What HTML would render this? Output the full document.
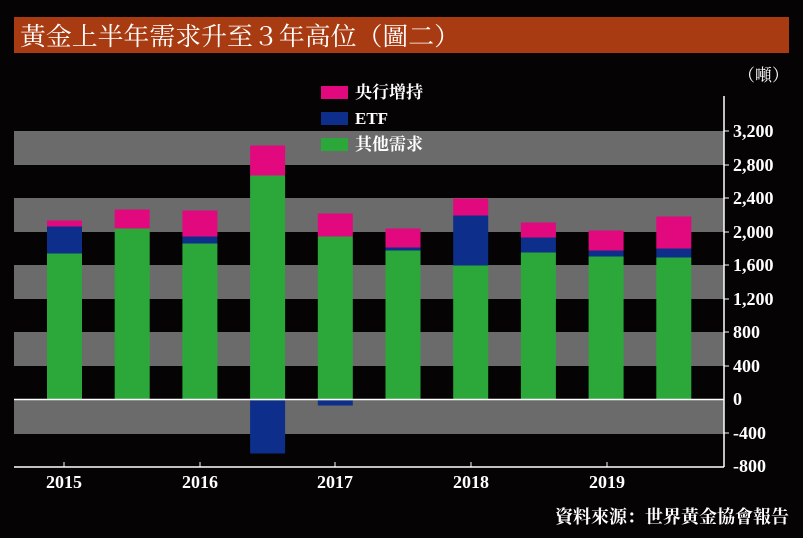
<!DOCTYPE html>
<html><head><meta charset="utf-8"><style>
body{margin:0;background:#050303;width:803px;height:533px;overflow:hidden}
svg text{font-family:"Liberation Serif","Noto Serif CJK SC",serif;fill:#fff}
</style></head><body>
<svg width="803" height="533" xmlns="http://www.w3.org/2000/svg">
<rect x="0" y="0" width="803" height="533" fill="#050303"/>
<rect x="14" y="17" width="775" height="36" fill="#a93b12"/>
<text x="20" y="45" font-size="25" textLength="440" lengthAdjust="spacingAndGlyphs">黃金上半年需求升至３年高位（圖二）</text>
<g fill="#6b6b6b">
<rect x="14" y="131" width="710" height="34"/>
<rect x="14" y="198" width="710" height="34"/>
<rect x="14" y="265" width="710" height="34"/>
<rect x="14" y="332" width="710" height="34"/>
<rect x="14" y="399" width="710" height="35"/>
</g>
<g fill="#2ca83a">
<rect x="47" y="253.5" width="35" height="146"/>
<rect x="114.7" y="228.5" width="35" height="171"/>
<rect x="182.4" y="243.5" width="35" height="156"/>
<rect x="250.1" y="175.5" width="35" height="224"/>
<rect x="317.8" y="236.5" width="35" height="163"/>
<rect x="385.5" y="250.5" width="35" height="149"/>
<rect x="453.2" y="265.5" width="35" height="134"/>
<rect x="520.9" y="252.5" width="35" height="147"/>
<rect x="588.6" y="256.5" width="35" height="143"/>
<rect x="656.3" y="257.5" width="35" height="142"/>
</g>
<g fill="#0d2e8a">
<rect x="47" y="226.5" width="35" height="27"/>
<rect x="182.4" y="236.5" width="35" height="7"/>
<rect x="250.1" y="400.5" width="35" height="53"/>
<rect x="317.8" y="400.5" width="35" height="5"/>
<rect x="385.5" y="247.5" width="35" height="3"/>
<rect x="453.2" y="215.5" width="35" height="50"/>
<rect x="520.9" y="237.5" width="35" height="15"/>
<rect x="588.6" y="250.5" width="35" height="6"/>
<rect x="656.3" y="248.5" width="35" height="9"/>
</g>
<g fill="#e2097f">
<rect x="47" y="220.5" width="35" height="6"/>
<rect x="114.7" y="209.5" width="35" height="19"/>
<rect x="182.4" y="210.5" width="35" height="26"/>
<rect x="250.1" y="145.5" width="35" height="30"/>
<rect x="317.8" y="213.5" width="35" height="23"/>
<rect x="385.5" y="228.5" width="35" height="19"/>
<rect x="453.2" y="198.5" width="35" height="17"/>
<rect x="520.9" y="222.5" width="35" height="15"/>
<rect x="588.6" y="230.5" width="35" height="20"/>
<rect x="656.3" y="216.5" width="35" height="32"/>
</g>
<line x1="14" y1="399.5" x2="724" y2="399.5" stroke="#fff" stroke-width="1.5"/>
<line x1="14" y1="467" x2="724" y2="467" stroke="#fff" stroke-width="1.5"/>
<line x1="724" y1="96" x2="724" y2="467" stroke="#fff" stroke-width="1.5"/>
<g stroke="#fff" stroke-width="1">
<line x1="64" y1="462" x2="64" y2="467"/><line x1="200" y1="462" x2="200" y2="467"/><line x1="335" y1="462" x2="335" y2="467"/><line x1="471" y1="462" x2="471" y2="467"/><line x1="607" y1="462" x2="607" y2="467"/>
</g>
<g font-size="18" font-weight="bold" text-anchor="middle">
<text x="64" y="488">2015</text><text x="200" y="488">2016</text><text x="335" y="488">2017</text><text x="471" y="488">2018</text><text x="607" y="488">2019</text>
</g>
<g font-size="18" font-weight="bold">
<text x="733" y="137">3,200</text><text x="733" y="171">2,800</text><text x="733" y="204">2,400</text><text x="733" y="238">2,000</text><text x="733" y="271">1,600</text><text x="733" y="305">1,200</text><text x="733" y="338">800</text><text x="733" y="372">400</text><text x="733" y="405">0</text><text x="733" y="439">-400</text><text x="733" y="472">-800</text>
</g>
<g stroke="#fff"><line x1="724" y1="131" x2="729" y2="131"/><line x1="724" y1="165" x2="729" y2="165"/><line x1="724" y1="198" x2="729" y2="198"/><line x1="724" y1="232" x2="729" y2="232"/><line x1="724" y1="265" x2="729" y2="265"/><line x1="724" y1="299" x2="729" y2="299"/><line x1="724" y1="332" x2="729" y2="332"/><line x1="724" y1="366" x2="729" y2="366"/><line x1="724" y1="433" x2="729" y2="433"/></g>
<text x="738" y="81" font-size="17">（噸）</text>
<rect x="321" y="86" width="27" height="13" fill="#e2097f"/>
<rect x="321" y="112" width="27" height="13" fill="#0d2e8a"/>
<rect x="321" y="138" width="27" height="13" fill="#2ca83a"/>
<g font-size="17" font-weight="bold"><text x="355" y="98">央行增持</text><text x="355" y="124">ETF</text><text x="355" y="150">其他需求</text></g>
<text x="789" y="523" font-size="18" font-weight="bold" text-anchor="end">資料來源：世界黃金協會報告</text>
</svg>
</body></html>
